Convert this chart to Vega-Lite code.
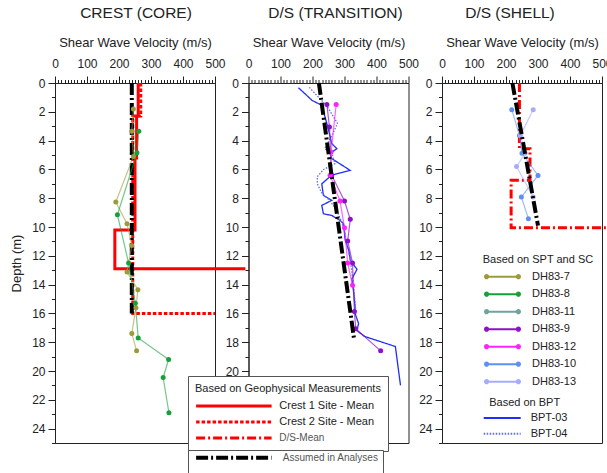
{
  "$schema": "https://vega.github.io/schema/vega-lite/v6.json",
  "background": "white",
  "padding": {"left": 10, "top": 5, "right": 0, "bottom": 0},
  "bounds": "flush",
  "spacing": 33.5,
  "config": {
    "font": "Liberation Sans",
    "view": {"stroke": "#222", "strokeWidth": 1},
    "axis": {"grid": false, "domainColor": "#222", "tickColor": "#222", "labelColor": "#222", "titleColor": "#222", "labelFontSize": 12, "titleFontSize": 13, "titleFontWeight": "normal", "tickSize": 7, "tickWidth": 1, "domainWidth": 1},
    "legend": {"titleFontWeight": "normal", "titleFontSize": 11, "labelFontSize": 11, "titleColor": "#222", "labelColor": "#222", "labelLimit": 300, "titleLimit": 400},
    "title": {"fontSize": 15.5, "fontWeight": "normal", "color": "#222", "frame": "group"}
  },
  "datasets": {
    "geo": [
      {"panel": 1, "series": "Crest 1 Site - Mean", "v": 260, "d": 0},
      {"panel": 1, "series": "Crest 1 Site - Mean", "v": 260, "d": 2.3},
      {"panel": 1, "series": "Crest 1 Site - Mean", "v": 255, "d": 2.3},
      {"panel": 1, "series": "Crest 1 Site - Mean", "v": 255, "d": 5.2},
      {"panel": 1, "series": "Crest 1 Site - Mean", "v": 250, "d": 5.2},
      {"panel": 1, "series": "Crest 1 Site - Mean", "v": 250, "d": 10.2},
      {"panel": 1, "series": "Crest 1 Site - Mean", "v": 187, "d": 10.2},
      {"panel": 1, "series": "Crest 1 Site - Mean", "v": 187, "d": 12.9},
      {"panel": 1, "series": "Crest 1 Site - Mean", "v": 595, "d": 12.9},
      {"panel": 1, "series": "Crest 2 Site - Mean", "v": 268, "d": 0},
      {"panel": 1, "series": "Crest 2 Site - Mean", "v": 268, "d": 2.3},
      {"panel": 1, "series": "Crest 2 Site - Mean", "v": 243, "d": 2.3},
      {"panel": 1, "series": "Crest 2 Site - Mean", "v": 243, "d": 16},
      {"panel": 1, "series": "Crest 2 Site - Mean", "v": 500, "d": 16},
      {"panel": 3, "series": "D/S-Mean", "v": 242, "d": 0},
      {"panel": 3, "series": "D/S-Mean", "v": 242, "d": 4.56},
      {"panel": 3, "series": "D/S-Mean", "v": 275, "d": 4.56},
      {"panel": 3, "series": "D/S-Mean", "v": 275, "d": 6.76},
      {"panel": 3, "series": "D/S-Mean", "v": 216, "d": 6.76},
      {"panel": 3, "series": "D/S-Mean", "v": 216, "d": 10.05},
      {"panel": 3, "series": "D/S-Mean", "v": 512, "d": 10.05}
    ],
    "assumed": [
      {"panel": 1, "series": "Assumed in Analyses", "v": 240, "d": 0},
      {"panel": 1, "series": "Assumed in Analyses", "v": 240, "d": 16},
      {"panel": 2, "series": "Assumed in Analyses", "v": 220, "d": 0},
      {"panel": 2, "series": "Assumed in Analyses", "v": 330, "d": 17.8},
      {"panel": 3, "series": "Assumed in Analyses", "v": 220, "d": 0},
      {"panel": 3, "series": "Assumed in Analyses", "v": 300, "d": 9.9}
    ],
    "dh": [
      {"panel": 1, "series": "DH83-7", "v": 245, "d": 1.8},
      {"panel": 1, "series": "DH83-7", "v": 240, "d": 3.35},
      {"panel": 1, "series": "DH83-7", "v": 245, "d": 5.1},
      {"panel": 1, "series": "DH83-7", "v": 190, "d": 8.27},
      {"panel": 1, "series": "DH83-7", "v": 225, "d": 9.77},
      {"panel": 1, "series": "DH83-7", "v": 240, "d": 11.28},
      {"panel": 1, "series": "DH83-7", "v": 225, "d": 13.13},
      {"panel": 1, "series": "DH83-7", "v": 259, "d": 14.35},
      {"panel": 1, "series": "DH83-7", "v": 253, "d": 15.6},
      {"panel": 1, "series": "DH83-7", "v": 240, "d": 17.4},
      {"panel": 1, "series": "DH83-7", "v": 255, "d": 18.6},
      {"panel": 1, "series": "DH83-8", "v": 262, "d": 3.35},
      {"panel": 1, "series": "DH83-8", "v": 256, "d": 4.85},
      {"panel": 1, "series": "DH83-8", "v": 195, "d": 9.15},
      {"panel": 1, "series": "DH83-8", "v": 230, "d": 12.5},
      {"panel": 1, "series": "DH83-8", "v": 251, "d": 15.3},
      {"panel": 1, "series": "DH83-8", "v": 260, "d": 17.7},
      {"panel": 1, "series": "DH83-8", "v": 355, "d": 19.2},
      {"panel": 1, "series": "DH83-8", "v": 338, "d": 20.45},
      {"panel": 1, "series": "DH83-8", "v": 356, "d": 22.9},
      {"panel": 2, "series": "DH83-9", "v": 245, "d": 1.5},
      {"panel": 2, "series": "DH83-9", "v": 253, "d": 3.06},
      {"panel": 2, "series": "DH83-9", "v": 260, "d": 6.4},
      {"panel": 2, "series": "DH83-9", "v": 300, "d": 8.2},
      {"panel": 2, "series": "DH83-9", "v": 318, "d": 9.47},
      {"panel": 2, "series": "DH83-9", "v": 310, "d": 10.97},
      {"panel": 2, "series": "DH83-9", "v": 325, "d": 12.5},
      {"panel": 2, "series": "DH83-9", "v": 331, "d": 15.86},
      {"panel": 2, "series": "DH83-9", "v": 335, "d": 17.06},
      {"panel": 2, "series": "DH83-9", "v": 413, "d": 18.6},
      {"panel": 2, "series": "DH83-12", "v": 274, "d": 1.5},
      {"panel": 2, "series": "DH83-12", "v": 258, "d": 4.8},
      {"panel": 2, "series": "DH83-12", "v": 255, "d": 6.4},
      {"panel": 2, "series": "DH83-12", "v": 286, "d": 8.2},
      {"panel": 2, "series": "DH83-12", "v": 300, "d": 10.05},
      {"panel": 2, "series": "DH83-12", "v": 310, "d": 12.5},
      {"panel": 2, "series": "DH83-12", "v": 325, "d": 14.05},
      {"panel": 3, "series": "DH83-10", "v": 218, "d": 1.85},
      {"panel": 3, "series": "DH83-10", "v": 242, "d": 3.64},
      {"panel": 3, "series": "DH83-10", "v": 250, "d": 4.87},
      {"panel": 3, "series": "DH83-10", "v": 300, "d": 6.42},
      {"panel": 3, "series": "DH83-10", "v": 248, "d": 7.92},
      {"panel": 3, "series": "DH83-10", "v": 270, "d": 9.42},
      {"panel": 3, "series": "DH83-13", "v": 285, "d": 1.85},
      {"panel": 3, "series": "DH83-13", "v": 245, "d": 3.64},
      {"panel": 3, "series": "DH83-13", "v": 260, "d": 4.87},
      {"panel": 3, "series": "DH83-13", "v": 233, "d": 5.8},
      {"panel": 3, "series": "DH83-13", "v": 285, "d": 7.92}
    ],
    "bpt": [
      {"series": "BPT-03", "v": 156, "d": 0.33},
      {"series": "BPT-03", "v": 182, "d": 0.86},
      {"series": "BPT-03", "v": 198, "d": 1.2},
      {"series": "BPT-03", "v": 229, "d": 1.55},
      {"series": "BPT-03", "v": 248, "d": 3.06},
      {"series": "BPT-03", "v": 260, "d": 4.2},
      {"series": "BPT-03", "v": 276, "d": 4.56},
      {"series": "BPT-03", "v": 255, "d": 4.9},
      {"series": "BPT-03", "v": 260, "d": 5.25},
      {"series": "BPT-03", "v": 318, "d": 6.07},
      {"series": "BPT-03", "v": 260, "d": 6.4},
      {"series": "BPT-03", "v": 229, "d": 7.0},
      {"series": "BPT-03", "v": 234, "d": 7.8},
      {"series": "BPT-03", "v": 260, "d": 8.15},
      {"series": "BPT-03", "v": 229, "d": 8.5},
      {"series": "BPT-03", "v": 234, "d": 9.08},
      {"series": "BPT-03", "v": 260, "d": 9.2},
      {"series": "BPT-03", "v": 286, "d": 9.54},
      {"series": "BPT-03", "v": 297, "d": 9.77},
      {"series": "BPT-03", "v": 302, "d": 10.9},
      {"series": "BPT-03", "v": 313, "d": 11.6},
      {"series": "BPT-03", "v": 318, "d": 12.3},
      {"series": "BPT-03", "v": 339, "d": 12.94},
      {"series": "BPT-03", "v": 323, "d": 13.6},
      {"series": "BPT-03", "v": 329, "d": 14.6},
      {"series": "BPT-03", "v": 333, "d": 15.55},
      {"series": "BPT-03", "v": 333, "d": 16.0},
      {"series": "BPT-03", "v": 344, "d": 16.7},
      {"series": "BPT-03", "v": 339, "d": 17.2},
      {"series": "BPT-03", "v": 363, "d": 17.6},
      {"series": "BPT-03", "v": 459, "d": 18.3},
      {"series": "BPT-03", "v": 475, "d": 21.0},
      {"series": "BPT-04", "v": 190, "d": 0.3},
      {"series": "BPT-04", "v": 215, "d": 0.9},
      {"series": "BPT-04", "v": 245, "d": 1.6},
      {"series": "BPT-04", "v": 278, "d": 2.8},
      {"series": "BPT-04", "v": 262, "d": 3.6},
      {"series": "BPT-04", "v": 238, "d": 4.55},
      {"series": "BPT-04", "v": 262, "d": 5.0},
      {"series": "BPT-04", "v": 270, "d": 5.6},
      {"series": "BPT-04", "v": 235, "d": 6.0},
      {"series": "BPT-04", "v": 215, "d": 6.5},
      {"series": "BPT-04", "v": 215, "d": 7.0},
      {"series": "BPT-04", "v": 228, "d": 7.6},
      {"series": "BPT-04", "v": 255, "d": 8.2},
      {"series": "BPT-04", "v": 275, "d": 8.8},
      {"series": "BPT-04", "v": 290, "d": 9.6},
      {"series": "BPT-04", "v": 300, "d": 10.3},
      {"series": "BPT-04", "v": 308, "d": 11.2},
      {"series": "BPT-04", "v": 318, "d": 12.2},
      {"series": "BPT-04", "v": 322, "d": 13.0},
      {"series": "BPT-04", "v": 328, "d": 14.0},
      {"series": "BPT-04", "v": 332, "d": 15.0},
      {"series": "BPT-04", "v": 336, "d": 16.0}
    ]
  },
  "resolve": {"scale": {"color": "independent", "strokeDash": "independent"}},
  "hconcat": [
    {
      "width": 160, "height": 360,
      "title": {"text": "CREST (CORE)", "offset": 15, "dx": 1},
      "encoding": {
        "x": {"field": "v", "type": "quantitative", "scale": {"domain": [0, 500], "nice": false},
          "axis": {"orient": "top", "title": "Shear Wave Velocity (m/s)", "titlePadding": 8, "labelPadding": 6, "labelFlush": false, "labelOverlap": false, "format": "d",
            "values": [0,10,20,30,40,50,60,70,80,90,100,110,120,130,140,150,160,170,180,190,200,210,220,230,240,250,260,270,280,290,300,310,320,330,340,350,360,370,380,390,400,410,420,430,440,450,460,470,480,490,500],
            "labelExpr": "datum.value % 100 === 0 ? datum.label : ''",
            "tickSize": {"condition": {"test": "datum.value % 100 === 0", "value": 7}, "value": 3.5}}},
        "y": {"field": "d", "type": "quantitative", "scale": {"domain": [0, 25], "reverse": true, "nice": false},
          "axis": {"title": "Depth (m)", "titlePadding": 8, "labelPadding": 3, "labelOverlap": false, "labelFlush": false, "format": "d",
            "values": [0,0.5,1,1.5,2,2.5,3,3.5,4,4.5,5,5.5,6,6.5,7,7.5,8,8.5,9,9.5,10,10.5,11,11.5,12,12.5,13,13.5,14,14.5,15,15.5,16,16.5,17,17.5,18,18.5,19,19.5,20,20.5,21,21.5,22,22.5,23,23.5,24,24.5,25],
            "labelExpr": "datum.value % 2 === 0 ? datum.label : ''",
            "tickSize": {"condition": {"test": "datum.value % 2 === 0", "value": 7}, "value": 3.5}}}
      },
      "resolve": {"scale": {"color": "independent", "strokeDash": "independent"}},
      "layer": [
        {"data": {"name": "geo"}, "transform": [{"filter": "datum.panel === 1"}],
          "mark": {"type": "line", "strokeWidth": 3},
          "encoding": {
            "color": {"field": "series", "type": "nominal", "scale": {"domain": ["Crest 1 Site - Mean", "Crest 2 Site - Mean"], "range": ["#ff0000", "#ff0000"]}, "legend": null},
            "strokeDash": {"field": "series", "type": "nominal", "scale": {"domain": ["Crest 1 Site - Mean", "Crest 2 Site - Mean"], "range": [[1, 0], [3.5, 2]]}, "legend": null},
            "order": {"value": null}}},
        {"data": {"name": "assumed"}, "transform": [{"filter": "datum.panel === 1"}],
          "mark": {"type": "line", "color": "black", "strokeWidth": 4, "strokeDash": [12, 3, 2, 3]},
          "encoding": {"order": {"value": null}}},
        {"data": {"name": "dh"}, "transform": [{"filter": "datum.panel === 1"}],
          "mark": {"type": "line", "strokeWidth": 1.2, "opacity": 0.6},
          "encoding": {
            "color": {"field": "series", "type": "nominal", "scale": {"domain": ["DH83-7","DH83-8","DH83-11","DH83-9","DH83-12","DH83-10","DH83-13"], "range": ["#9b9b3b","#17a03a","#6fa39b","#8e10c9","#ff22ff","#5e90f4","#a6acfa"]}, "legend": null},
            "order": {"value": null}}},
        {"data": {"name": "dh"}, "transform": [{"filter": "datum.panel === 1"}],
          "mark": {"type": "point", "filled": true, "size": 25, "opacity": 1},
          "encoding": {
            "color": {"field": "series", "type": "nominal", "scale": {"domain": ["DH83-7","DH83-8","DH83-11","DH83-9","DH83-12","DH83-10","DH83-13"], "range": ["#9b9b3b","#17a03a","#6fa39b","#8e10c9","#ff22ff","#5e90f4","#a6acfa"]}, "legend": null}}}
      ]
    },
    {
      "width": 160, "height": 360,
      "title": {"text": "D/S (TRANSITION)", "offset": 15, "dx": 7},
      "encoding": {
        "x": {"field": "v", "type": "quantitative", "scale": {"domain": [0, 500], "nice": false},
          "axis": {"orient": "top", "title": "Shear Wave Velocity (m/s)", "titlePadding": 8, "labelPadding": 6, "labelFlush": false, "labelOverlap": false, "format": "d",
            "values": [0,10,20,30,40,50,60,70,80,90,100,110,120,130,140,150,160,170,180,190,200,210,220,230,240,250,260,270,280,290,300,310,320,330,340,350,360,370,380,390,400,410,420,430,440,450,460,470,480,490,500],
            "labelExpr": "datum.value % 100 === 0 ? datum.label : ''",
            "tickSize": {"condition": {"test": "datum.value % 100 === 0", "value": 7}, "value": 3.5}}},
        "y": {"field": "d", "type": "quantitative", "scale": {"domain": [0, 25], "reverse": true, "nice": false},
          "axis": {"title": null, "labelPadding": 3, "labelOverlap": false, "labelFlush": false, "format": "d",
            "values": [0,0.5,1,1.5,2,2.5,3,3.5,4,4.5,5,5.5,6,6.5,7,7.5,8,8.5,9,9.5,10,10.5,11,11.5,12,12.5,13,13.5,14,14.5,15,15.5,16,16.5,17,17.5,18,18.5,19,19.5,20,20.5,21,21.5,22,22.5,23,23.5,24,24.5,25],
            "labelExpr": "datum.value % 2 === 0 ? datum.label : ''",
            "tickSize": {"condition": {"test": "datum.value % 2 === 0", "value": 7}, "value": 3.5}}}
      },
      "resolve": {"scale": {"color": "independent", "strokeDash": "independent"}},
      "layer": [
        {"data": {"name": "bpt"},
          "mark": {"type": "line", "strokeWidth": 1.3},
          "encoding": {
            "color": {"field": "series", "type": "nominal", "scale": {"domain": ["BPT-03", "BPT-04"], "range": ["#1f2ff5", "#5a6ef2"]},
              "legend": {"orient": "none", "legendX": 234.2, "legendY": 313.5, "title": "Based on BPT", "titleAnchor": "middle", "symbolType": "stroke", "symbolSize": 1369, "symbolStrokeWidth": 2, "clipHeight": 12, "rowPadding": 3.7, "padding": 0, "titlePadding": 4.5, "symbolOffset": 0, "labelOffset": 9}},
            "strokeDash": {"field": "series", "type": "nominal", "scale": {"domain": ["BPT-03", "BPT-04"], "range": [[1, 0], [1.5, 1.5]]},
              "legend": {"orient": "none", "legendX": 234.2, "legendY": 313.5, "title": "Based on BPT", "titleAnchor": "middle", "symbolType": "stroke", "symbolSize": 1369, "symbolStrokeWidth": 2, "clipHeight": 12, "rowPadding": 3.7, "padding": 0, "titlePadding": 4.5, "symbolOffset": 0, "labelOffset": 9}},
            "order": {"value": null}}},
        {"data": {"name": "dh"}, "transform": [{"filter": "datum.panel === 2"}],
          "mark": {"type": "line", "strokeWidth": 1.2, "opacity": 0.7},
          "encoding": {
            "color": {"field": "series", "type": "nominal", "scale": {"domain": ["DH83-7","DH83-8","DH83-11","DH83-9","DH83-12","DH83-10","DH83-13"], "range": ["#9b9b3b","#17a03a","#6fa39b","#8e10c9","#ff22ff","#5e90f4","#a6acfa"]}, "legend": null},
            "order": {"value": null}}},
        {"data": {"name": "dh"}, "transform": [{"filter": "datum.panel === 2"}],
          "mark": {"type": "point", "filled": true, "size": 25, "opacity": 1},
          "encoding": {
            "color": {"field": "series", "type": "nominal", "scale": {"domain": ["DH83-7","DH83-8","DH83-11","DH83-9","DH83-12","DH83-10","DH83-13"], "range": ["#9b9b3b","#17a03a","#6fa39b","#8e10c9","#ff22ff","#5e90f4","#a6acfa"]}, "legend": null}}},
        {"data": {"name": "assumed"}, "transform": [{"filter": "datum.panel === 2"}],
          "mark": {"type": "line", "color": "black", "strokeWidth": 4, "strokeDash": [12, 3, 2, 3]},
          "encoding": {"order": {"value": null}}}
      ]
    },
    {
      "width": 160, "height": 360,
      "title": {"text": "D/S (SHELL)", "offset": 15, "dx": -12},
      "encoding": {
        "x": {"field": "v", "type": "quantitative", "scale": {"domain": [0, 500], "nice": false},
          "axis": {"orient": "top", "title": "Shear Wave Velocity (m/s)", "titlePadding": 8, "labelPadding": 6, "labelFlush": false, "labelOverlap": false, "format": "d",
            "values": [0,10,20,30,40,50,60,70,80,90,100,110,120,130,140,150,160,170,180,190,200,210,220,230,240,250,260,270,280,290,300,310,320,330,340,350,360,370,380,390,400,410,420,430,440,450,460,470,480,490,500],
            "labelExpr": "datum.value % 100 === 0 ? datum.label : ''",
            "tickSize": {"condition": {"test": "datum.value % 100 === 0", "value": 7}, "value": 3.5}}},
        "y": {"field": "d", "type": "quantitative", "scale": {"domain": [0, 25], "reverse": true, "nice": false},
          "axis": {"title": null, "labelPadding": 3, "labelOverlap": false, "labelFlush": false, "format": "d",
            "values": [0,0.5,1,1.5,2,2.5,3,3.5,4,4.5,5,5.5,6,6.5,7,7.5,8,8.5,9,9.5,10,10.5,11,11.5,12,12.5,13,13.5,14,14.5,15,15.5,16,16.5,17,17.5,18,18.5,19,19.5,20,20.5,21,21.5,22,22.5,23,23.5,24,24.5,25],
            "labelExpr": "datum.value % 2 === 0 ? datum.label : ''",
            "tickSize": {"condition": {"test": "datum.value % 2 === 0", "value": 7}, "value": 3.5}}}
      },
      "resolve": {"scale": {"color": "independent", "strokeDash": "independent"}},
      "layer": [
        {"data": {"name": "geo"}, "transform": [{"filter": "datum.panel === 3"}],
          "mark": {"type": "line", "strokeWidth": 3},
          "encoding": {
            "color": {"field": "series", "type": "nominal", "scale": {"domain": ["Crest 1 Site - Mean", "Crest 2 Site - Mean", "D/S-Mean"], "range": ["#ff0000", "#ff0000", "#ff0000"]},
              "legend": {"orient": "none", "legendX": -254, "legendY": 293, "title": "Based on Geophysical Measurements\u00a0", "symbolType": "stroke", "symbolSize": 5700, "symbolStrokeWidth": 3, "clipHeight": 12, "rowPadding": 4, "padding": 7, "titlePadding": 6, "symbolOffset": -0.65, "labelOffset": 6, "strokeColor": "#555", "fillColor": "white",
                "encode": {"labels": {"update": {"fontSize": {"signal": "datum.value === 'D/S-Mean' ? 10 : 11"}, "fill": {"signal": "datum.value === 'D/S-Mean' ? '#555' : '#222'"}}}}}},
            "strokeDash": {"field": "series", "type": "nominal", "scale": {"domain": ["Crest 1 Site - Mean", "Crest 2 Site - Mean", "D/S-Mean"], "range": [[1, 0], [3.5, 2], [9, 3, 2, 3]]},
              "legend": {"orient": "none", "legendX": -254, "legendY": 293, "title": "Based on Geophysical Measurements\u00a0", "symbolType": "stroke", "symbolSize": 5700, "symbolStrokeWidth": 3, "clipHeight": 12, "rowPadding": 4, "padding": 7, "titlePadding": 6, "symbolOffset": -0.65, "labelOffset": 6, "strokeColor": "#555", "fillColor": "white",
                "encode": {"labels": {"update": {"fontSize": {"signal": "datum.value === 'D/S-Mean' ? 10 : 11"}, "fill": {"signal": "datum.value === 'D/S-Mean' ? '#555' : '#222'"}}}}}},
            "order": {"value": null}}},
        {"data": {"name": "dh"}, "transform": [{"filter": "datum.panel === 3"}],
          "mark": {"type": "line", "strokeWidth": 1.2, "opacity": 0.6},
          "encoding": {
            "color": {"field": "series", "type": "nominal", "scale": {"domain": ["DH83-7","DH83-8","DH83-11","DH83-9","DH83-12","DH83-10","DH83-13"], "range": ["#9b9b3b","#17a03a","#6fa39b","#8e10c9","#ff22ff","#5e90f4","#a6acfa"]}, "legend": null},
            "order": {"value": null}}},
        {"data": {"name": "dh"}, "transform": [{"filter": "datum.panel === 3"}],
          "mark": {"type": "point", "filled": true, "size": 25, "opacity": 1},
          "encoding": {
            "color": {"field": "series", "type": "nominal", "scale": {"domain": ["DH83-7","DH83-8","DH83-11","DH83-9","DH83-12","DH83-10","DH83-13"], "range": ["#9b9b3b","#17a03a","#6fa39b","#8e10c9","#ff22ff","#5e90f4","#a6acfa"]},
              "legend": {"orient": "none", "legendX": 40.7, "legendY": 171.2, "title": "Based on SPT and SC", "symbolType": "M-0.86,-0.14A0.14,0.14,0,1,1,-0.86,0.14A0.14,0.14,0,1,1,-0.86,-0.14ZM0.86,-0.14A0.14,0.14,0,1,1,0.86,0.14A0.14,0.14,0,1,1,0.86,-0.14ZM-0.86,-0.05L0.86,-0.05L0.86,0.05L-0.86,0.05Z", "symbolSize": 1369, "symbolStrokeWidth": 0, "clipHeight": 14, "rowPadding": 3.5, "padding": 0, "titlePadding": 4.5, "symbolOffset": 1.3, "labelOffset": 11}}}},
        {"data": {"name": "assumed"}, "transform": [{"filter": "datum.panel === 3"}],
          "mark": {"type": "line", "strokeWidth": 4},
          "encoding": {
            "color": {"field": "series", "type": "nominal", "scale": {"domain": ["Assumed in Analyses"], "range": ["black"]},
              "legend": {"orient": "none", "legendX": -254, "legendY": 367, "title": "\u00a0\u00a0\u00a0\u00a0\u00a0\u00a0\u00a0\u00a0\u00a0\u00a0\u00a0\u00a0\u00a0\u00a0\u00a0\u00a0\u00a0\u00a0\u00a0\u00a0\u00a0\u00a0\u00a0\u00a0\u00a0\u00a0\u00a0\u00a0\u00a0\u00a0\u00a0\u00a0\u00a0\u00a0\u00a0\u00a0\u00a0\u00a0\u00a0\u00a0\u00a0\u00a0\u00a0\u00a0\u00a0\u00a0\u00a0\u00a0\u00a0\u00a0\u00a0\u00a0\u00a0\u00a0\u00a0\u00a0\u00a0\u00a0\u00a0\u00a0\u00a0\u00a0\u00a0\u00a0", "titleOrient": "bottom", "titlePadding": 12, "symbolType": "stroke", "symbolSize": 5700, "symbolStrokeWidth": 4, "clipHeight": 8, "padding": 3.7, "symbolOffset": 2.15, "labelOffset": 9, "labelFontSize": 10, "labelColor": "#555", "strokeColor": "#555", "fillColor": "white"}},
            "strokeDash": {"field": "series", "type": "nominal", "scale": {"domain": ["Assumed in Analyses"], "range": [[12, 3, 2, 3]]},
              "legend": {"orient": "none", "legendX": -254, "legendY": 367, "title": "\u00a0\u00a0\u00a0\u00a0\u00a0\u00a0\u00a0\u00a0\u00a0\u00a0\u00a0\u00a0\u00a0\u00a0\u00a0\u00a0\u00a0\u00a0\u00a0\u00a0\u00a0\u00a0\u00a0\u00a0\u00a0\u00a0\u00a0\u00a0\u00a0\u00a0\u00a0\u00a0\u00a0\u00a0\u00a0\u00a0\u00a0\u00a0\u00a0\u00a0\u00a0\u00a0\u00a0\u00a0\u00a0\u00a0\u00a0\u00a0\u00a0\u00a0\u00a0\u00a0\u00a0\u00a0\u00a0\u00a0\u00a0\u00a0\u00a0\u00a0\u00a0\u00a0\u00a0\u00a0", "titleOrient": "bottom", "titlePadding": 12, "symbolType": "stroke", "symbolSize": 5700, "symbolStrokeWidth": 4, "clipHeight": 8, "padding": 3.7, "symbolOffset": 2.15, "labelOffset": 9, "labelFontSize": 10, "labelColor": "#555", "strokeColor": "#555", "fillColor": "white"}},
            "order": {"value": null}}}
      ]
    }
  ]
}
